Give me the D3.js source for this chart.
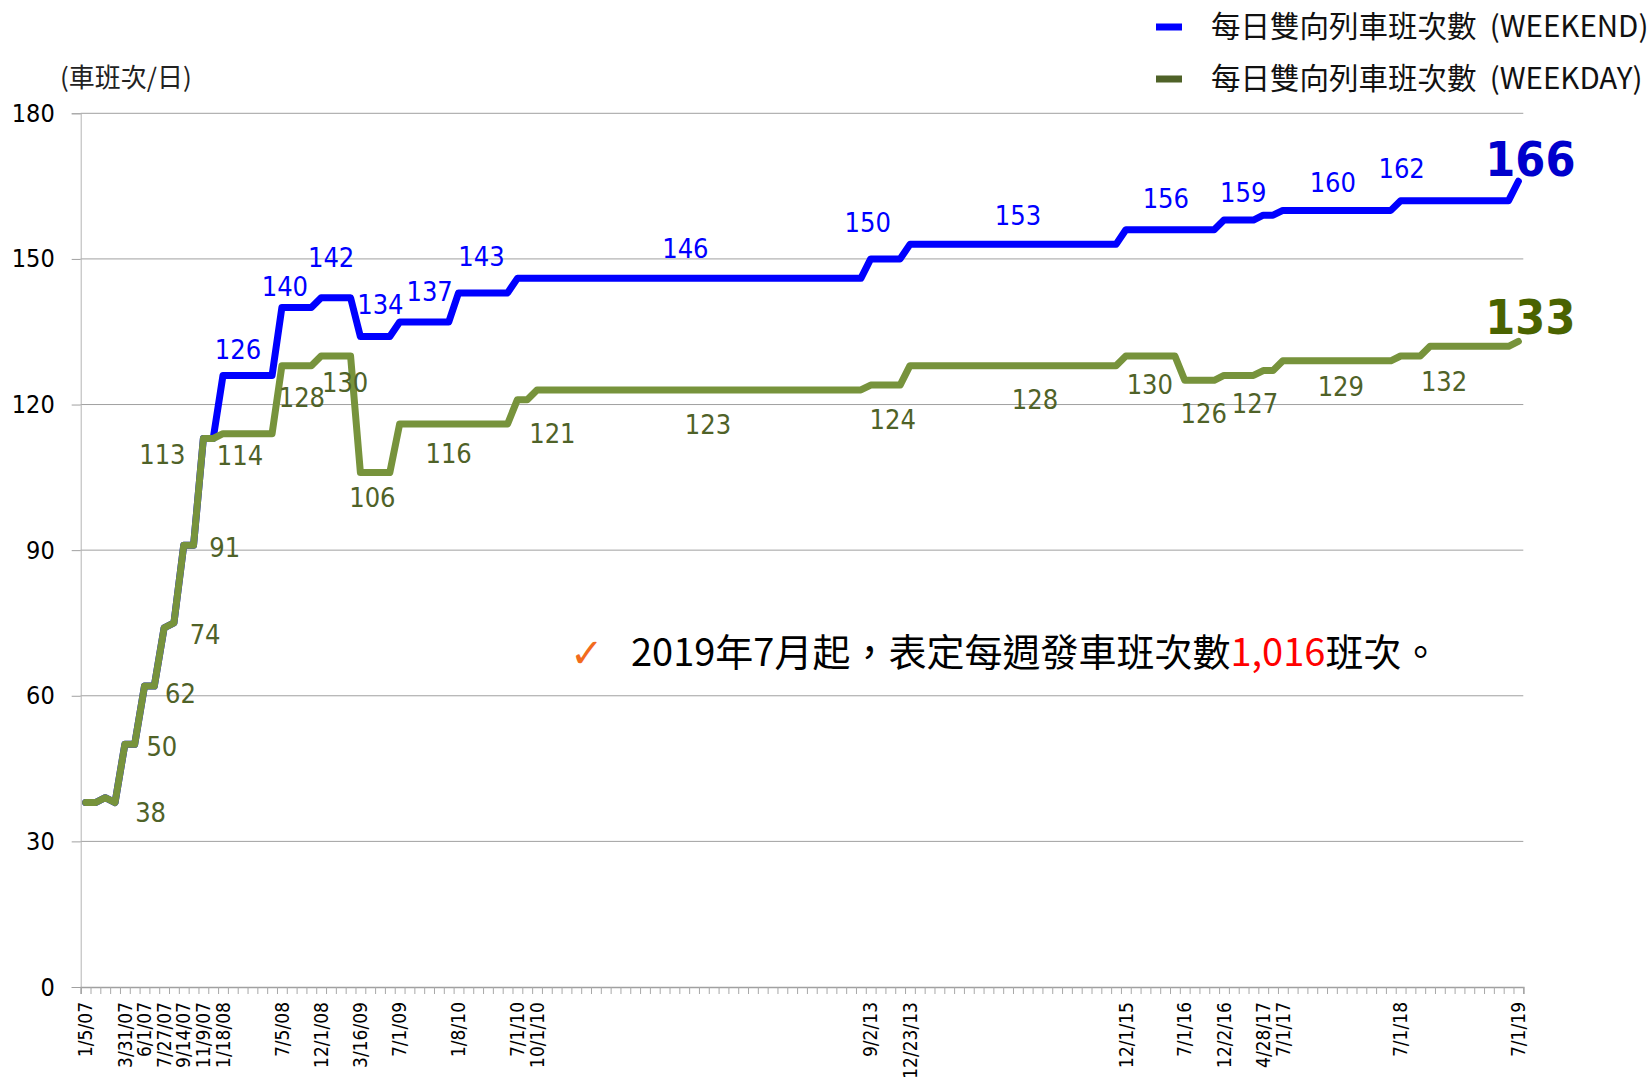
<!DOCTYPE html>
<html>
<head>
<meta charset="utf-8">
<script src="https://cdn.jsdelivr.net/npm/d3@7"></script>
<style>
  body { margin: 0; background: #fff; }
  svg { display: block; }
</style>
</head>
<body>
<div id="chart"></div>
<script>
// ---- data ----
const categoryCount = 147;

const tickLabels = [
  { i: 0, text: '1/5/07' }, { i: 4, text: '3/31/07' }, { i: 6, text: '6/1/07' },
  { i: 8, text: '7/27/07' }, { i: 10, text: '9/14/07' }, { i: 12, text: '11/9/07' },
  { i: 14, text: '1/18/08' }, { i: 20, text: '7/5/08' }, { i: 24, text: '12/1/08' },
  { i: 28, text: '3/16/09' }, { i: 32, text: '7/1/09' }, { i: 38, text: '1/8/10' },
  { i: 44, text: '7/1/10' }, { i: 46, text: '10/1/10' }, { i: 80, text: '9/2/13' },
  { i: 84, text: '12/23/13' }, { i: 106, text: '12/1/15' }, { i: 112, text: '7/1/16' },
  { i: 116, text: '12/2/16' }, { i: 120, text: '4/28/17' }, { i: 122, text: '7/1/17' },
  { i: 134, text: '7/1/18' }, { i: 146, text: '7/1/19' }
];

const yTicks = [0, 30, 60, 90, 120, 150, 180];

// line vertices: [category index, trains per day]
const weekend = [
  [0, 38], [1, 38], [2, 39], [3, 38], [4, 50], [5, 50], [6, 62], [7, 62], [8, 74], [9, 75],
  [10, 91], [11, 91], [12, 113], [13, 113], [14, 126], [19, 126], [20, 140], [23, 140],
  [24, 142], [27, 142], [28, 134], [31, 134], [32, 137], [37, 137], [38, 143], [43, 143],
  [44, 146], [79, 146], [80, 150], [83, 150], [84, 153], [105, 153], [106, 156], [115, 156],
  [116, 158], [119, 158], [120, 159], [121, 159], [122, 160], [133, 160], [134, 162],
  [145, 162], [146, 166]
];

const weekday = [
  [0, 38], [1, 38], [2, 39], [3, 38], [4, 50], [5, 50], [6, 62], [7, 62], [8, 74], [9, 75],
  [10, 91], [11, 91], [12, 113], [13, 113], [14, 114], [19, 114], [20, 128], [23, 128],
  [24, 130], [27, 130], [28, 106], [31, 106], [32, 116], [43, 116], [44, 121], [45, 121],
  [46, 123], [79, 123], [80, 124], [83, 124], [84, 128], [105, 128], [106, 130], [111, 130],
  [112, 125], [115, 125], [116, 126], [119, 126], [120, 127], [121, 127], [122, 129],
  [133, 129], [134, 130], [136, 130], [137, 132], [145, 132], [146, 133]
];

// data labels: anchor category + shown value
const weekendLabels = [
  [14, 126], [20, 140], [24, 142], [28, 134], [32, 137], [38, 143], [44, 146], [80, 150],
  [84, 153], [106, 156], [120, 159], [122, 160], [134, 162]
];
const weekdayLabels = [
  [0, 38], [4, 50], [6, 62], [8, 74], [10, 91], [12, 113], [14, 114], [20, 128], [24, 130],
  [28, 106], [32, 116], [44, 121], [46, 123], [80, 124], [84, 128], [106, 130], [112, 126],
  [116, 127], [122, 129], [137, 132]
];
const weekendLast = [146, 166];
const weekdayLast = [146, 133];

// label nudges in px (kept apart from the values)
const weekendNudge = [
  [15, -26], [3, -21], [10, -40], [20, -32], [30, -30], [23, -36], [168, -30], [-3, -36],
  [108, -29], [40, -31], [-20, -23], [50, -28], [1, -32]
];
const weekdayNudge = [
  [65, 10], [37, 2], [36, 7], [41, 7], [41, 2], [-41, 16], [17, 22], [20, 32], [24, 27],
  [12, 25], [49, 30], [35, 34], [171, 35], [22, 34], [125, 34], [24, 29], [19, 38],
  [31, 33], [58, 26], [14, 35]
];

const seriesNames = ['每日雙向列車班次數  (WEEKEND)', '每日雙向列車班次數  (WEEKDAY)'];

// ---- layout ----
const width = 1649;
const height = 1082;
const plot = { left: 80.7, right: 1523.3, top: 113.3, bottom: 987 };

const numFont = "'DejaVu Sans Condensed', 'DejaVu Sans', sans-serif";
const cjkFont = "'Noto Sans CJK TC', 'Noto Sans', sans-serif";
const blue = '#0000ff';
const green = '#77933c';
const greenText = '#4f6228';

const svg = d3.select('#chart')
  .append('svg')
  .attr('width', width)
  .attr('height', height);

const x = d3.scaleBand()
  .domain(d3.range(categoryCount))
  .range([plot.left, plot.right]);
const xc = i => x(i) + x.bandwidth() / 2;

const y = d3.scaleLinear()
  .domain([0, 180])
  .range([plot.bottom, plot.top]);

// gridlines
svg.append('g')
  .selectAll('line')
  .data(yTicks.filter(d => d > 0))
  .enter()
  .append('line')
  .attr('x1', plot.left)
  .attr('x2', plot.right)
  .attr('y1', d => y(d))
  .attr('y2', d => y(d))
  .attr('stroke', '#a0a0a0')
  .attr('stroke-width', 1);

// y axis
const yAxis = svg.append('g')
  .attr('transform', `translate(${plot.left},0)`)
  .call(d3.axisLeft(y).tickValues(yTicks).tickSize(9).tickPadding(17));
yAxis.select('.domain').attr('stroke', '#b4b4b4');
yAxis.selectAll('.tick line').attr('stroke', '#a0a0a0');
yAxis.selectAll('.tick text')
  .attr('font-family', numFont)
  .attr('font-size', '25px')
  .attr('fill', '#000');

// x axis tick marks at category boundaries
const xb = d3.scaleLinear().domain([0, categoryCount]).range([plot.left, plot.right]);
const xTicks = svg.append('g')
  .attr('transform', `translate(0,${plot.bottom})`)
  .call(d3.axisBottom(xb).tickValues(d3.range(categoryCount + 1)).tickSize(7).tickFormat(''));
xTicks.select('.domain').attr('stroke', '#a0a0a0').attr('stroke-width', 1.5);
xTicks.selectAll('.tick line').attr('stroke', '#a8a8a8');

// x axis labels
const labelMap = new Map(tickLabels.map(d => [d.i, d.text]));
const xLabels = svg.append('g')
  .attr('transform', `translate(0,${plot.bottom})`)
  .call(d3.axisBottom(x).tickValues(tickLabels.map(d => d.i)).tickSize(0)
    .tickFormat(i => labelMap.get(i)));
xLabels.select('.domain').remove();
xLabels.selectAll('.tick text')
  .attr('font-family', numFont)
  .attr('font-size', '19px')
  .attr('fill', '#000')
  .attr('text-anchor', 'end')
  .attr('y', 0)
  .attr('dy', '0.35em')
  .attr('transform', 'translate(0,15) rotate(-90)');

// lines
const line = d3.line()
  .x(d => xc(d[0]))
  .y(d => y(d[1]));

svg.append('path')
  .datum(weekend)
  .attr('d', line)
  .attr('fill', 'none')
  .attr('stroke', blue)
  .attr('stroke-width', 7)
  .attr('stroke-linejoin', 'round')
  .attr('stroke-linecap', 'round');

svg.append('path')
  .datum(weekday)
  .attr('d', line)
  .attr('fill', 'none')
  .attr('stroke', green)
  .attr('stroke-width', 7)
  .attr('stroke-linejoin', 'round')
  .attr('stroke-linecap', 'round');

// data labels
function drawLabels(list, nudge, color) {
  svg.append('g')
    .selectAll('text')
    .data(list)
    .enter()
    .append('text')
    .attr('x', (d, k) => xc(d[0]) + nudge[k][0])
    .attr('y', (d, k) => y(d[1]) + nudge[k][1])
    .attr('dy', '0.35em')
    .attr('text-anchor', 'middle')
    .attr('font-family', numFont)
    .attr('font-size', '27px')
    .attr('fill', color)
    .text(d => d[1]);
}
drawLabels(weekendLabels, weekendNudge, blue);
drawLabels(weekdayLabels, weekdayNudge, greenText);

// final values, big and bold
svg.append('text')
  .attr('x', xc(weekendLast[0]) + 12)
  .attr('y', y(weekendLast[1]) - 22)
  .attr('dy', '0.35em')
  .attr('text-anchor', 'middle')
  .attr('font-family', numFont)
  .attr('font-weight', 'bold')
  .attr('font-size', '48px')
  .attr('fill', '#0000cc')
  .text(weekendLast[1]);

svg.append('text')
  .attr('x', xc(weekdayLast[0]) + 12)
  .attr('y', y(weekdayLast[1]) - 24)
  .attr('dy', '0.35em')
  .attr('text-anchor', 'middle')
  .attr('font-family', numFont)
  .attr('font-weight', 'bold')
  .attr('font-size', '48px')
  .attr('fill', '#4a6300')
  .text(weekdayLast[1]);

// unit title
svg.append('text')
  .attr('x', 60)
  .attr('y', 78)
  .attr('dy', '0.35em')
  .attr('font-family', cjkFont)
  .attr('font-size', '26px')
  .attr('fill', '#222')
  .text('(車班次/日)');

// legend
const legendColors = [blue, '#4f6228'];
const legend = svg.append('g')
  .selectAll('g')
  .data(seriesNames)
  .enter()
  .append('g')
  .attr('transform', (d, k) => `translate(1156,${27 + k * 52})`);
legend.append('rect')
  .attr('x', 0)
  .attr('y', -3.5)
  .attr('width', 26)
  .attr('height', 7)
  .attr('fill', (d, k) => legendColors[k]);
legend.append('text')
  .attr('x', 55)
  .attr('y', 0)
  .attr('dy', '0.35em')
  .attr('font-family', cjkFont)
  .attr('font-size', '29.5px')
  .attr('fill', '#111')
  .attr('xml:space', 'preserve')
  .style('white-space', 'pre')
  .text(d => d);

// annotation
svg.append('text')
  .attr('x', 570)
  .attr('y', 653)
  .attr('dy', '0.35em')
  .attr('font-family', "'DejaVu Sans', sans-serif")
  .attr('font-size', '40px')
  .attr('fill', '#f26b1d')
  .text('✓');

const note = svg.append('text')
  .attr('x', 631)
  .attr('y', 653)
  .attr('dy', '0.35em')
  .attr('font-family', cjkFont)
  .attr('font-size', '38px')
  .attr('fill', '#000');
note.append('tspan').text('2019年7月起，表定每週發車班次數');
note.append('tspan').attr('fill', '#ff0000').text('1,016');
note.append('tspan').text('班次。');
</script>
</body>
</html>
